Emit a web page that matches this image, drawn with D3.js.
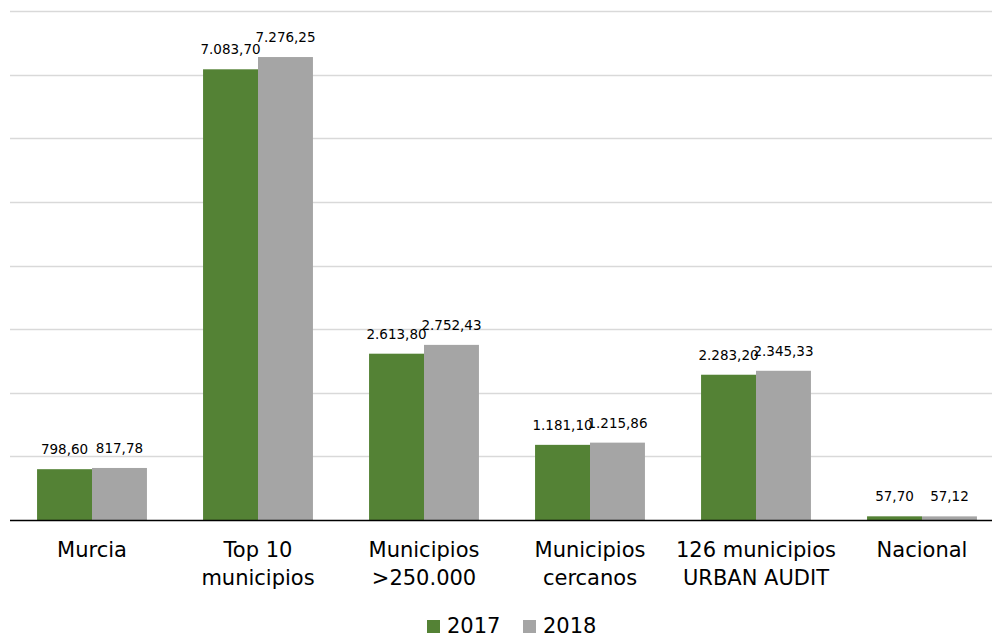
<!DOCTYPE html>
<html><head><meta charset="utf-8">
<script src="https://cdn.jsdelivr.net/npm/d3@7"></script>
<style>body{margin:0;background:#fff}svg{display:block}</style>
</head><body>
<svg id="c" width="992" height="639"></svg>
<script>
const categories = [["Murcia"],["Top 10","municipios"],["Municipios",">250.000"],["Municipios","cercanos"],["126 municipios","URBAN AUDIT"],["Nacional"]];
const series2017 = [798.60, 7083.70, 2613.80, 1181.10, 2283.20, 57.70];
const series2018 = [817.78, 7276.25, 2752.43, 1215.86, 2345.33, 57.12];
const seriesNames = ["2017","2018"];
const colors = ["#548235","#a5a5a5"];
const yTicks = [0,1000,2000,3000,4000,5000,6000,7000,8000];

const svg = d3.select("#c");
const font = "DejaVu Sans, Verdana, sans-serif";
const keys = categories.map((c,i)=>"c"+i);
const x0 = d3.scaleBand().domain(keys).range([9,1005]);
const x1 = d3.scaleBand().domain(seriesNames).range([x0.bandwidth()*0.169, x0.bandwidth()*0.831]);
const y = d3.scaleLinear().domain([0,8000]).range([520,11]);

// gridlines
svg.append("g").selectAll("line").data(yTicks.slice(1)).join("line")
  .attr("x1",10).attr("x2",992)
  .attr("y1",d=>Math.round(y(d))+0.5).attr("y2",d=>Math.round(y(d))+0.5)
  .attr("stroke","#d9d9d9").attr("stroke-width",1.5);

const fmt = v => {
  const s = v.toFixed(2).split(".");
  return s[0].replace(/\B(?=(\d{3})+(?!\d))/g,".") + "," + s[1];
};

const data = [series2017, series2018];
const g = svg.append("g");
data.forEach((ser,si)=>{
  g.append("g").selectAll("rect").data(ser).join("rect")
    .attr("x",(d,i)=>x0(keys[i])+x1(seriesNames[si]))
    .attr("width",x1.bandwidth())
    .attr("y",d=>y(d)).attr("height",d=>y(0)-y(d))
    .attr("fill",colors[si]);
});
data.forEach((ser,si)=>{
  g.append("g").selectAll("text").data(ser).join("text")
    .attr("x",(d,i)=>x0(keys[i])+x1(seriesNames[si])+x1.bandwidth()/2)
    .attr("y",d=>y(d)-15)
    .attr("text-anchor","middle")
    .attr("font-family",font).attr("font-size",13.5).attr("fill","#000")
    .text(d=>fmt(d));
});

// baseline
svg.append("line").attr("x1",10).attr("x2",992).attr("y1",y(0)+0.5).attr("y2",y(0)+0.5)
  .attr("stroke","#000").attr("stroke-width",1.5);

// category labels
const cl = svg.append("g");
categories.forEach((lines,i)=>{
  const t = cl.append("text").attr("text-anchor","middle")
    .attr("font-family",font).attr("font-size",21).attr("fill","#000");
  lines.forEach((ln,j)=>{
    t.append("tspan").attr("x",x0(keys[i])+x0.bandwidth()/2).attr("y",557+j*28).text(ln);
  });
});

// legend
const legX = [427, 523];
seriesNames.forEach((n,i)=>{
  svg.append("rect").attr("x",legX[i]).attr("y",620).attr("width",13).attr("height",13).attr("fill",colors[i]);
  svg.append("text").attr("x",legX[i]+20).attr("y",633).attr("font-family",font).attr("font-size",21).attr("fill","#000").text(n);
});
</script>
</body></html>
